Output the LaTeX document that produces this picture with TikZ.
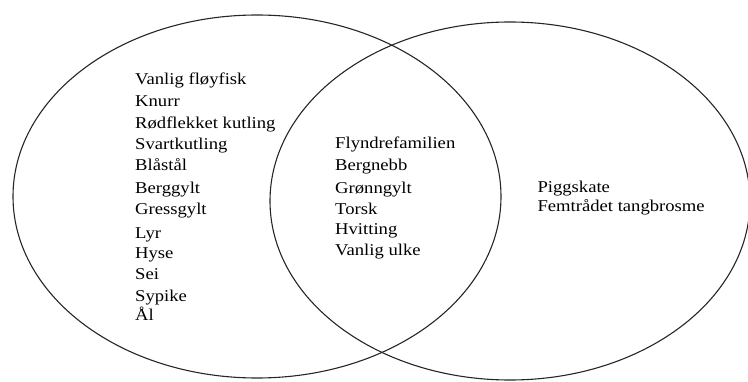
\documentclass[tikz,border=0pt]{standalone}
\usepackage{fontspec}
\setmainfont[FakeStretch=1.13]{Liberation Serif}
\begin{document}
\begin{tikzpicture}[x=1pt,y=1pt,
  set/.style={draw=black!85, line width=1.1pt},
  lbl/.style={anchor=base west, inner sep=0pt, font=\fontsize{16.5}{20}\selectfont}]
\useasboundingbox (0,0) rectangle (748,381);
\clip (0,0) rectangle (748,381);
\draw[set] (257,184.5) ellipse [x radius=244, y radius=181.5];
\draw[set] (510,180) ellipse [x radius=240, y radius=179];
% left set
\node[lbl] (l1) at (135,381-85) {Vanlig fløyfisk};
\node[lbl] (l2) at (135,381-106.7) {Knurr};
\node[lbl] (l3) at (135,381-128.3) {Rødflekket kutling};
\node[lbl] (l4) at (135,381-149.3) {Svartkutling};
\node[lbl] (l5) at (135,381-171) {Blåstål};
\node[lbl] (l6) at (135,381-193.3) {Berggylt};
\node[lbl] (l7) at (135,381-214) {Gressgylt};
\node[lbl] (l8) at (135,381-238.3) {Lyr};
\node[lbl] (l9) at (135,381-258.3) {Hyse};
\node[lbl] (l10) at (135,381-279) {Sei};
\node[lbl] (l11) at (135,381-301.7) {Sypike};
\node[lbl] (l12) at (135,381-320) {Ål};
% intersection
\node[lbl] (m1) at (335,381-149) {Flyndrefamilien};
\node[lbl] (m2) at (335,381-170) {Bergnebb};
\node[lbl] (m3) at (335,381-193.3) {Grønngylt};
\node[lbl] (m4) at (335,381-214.3) {Torsk};
\node[lbl] (m5) at (335,381-234.3) {Hvitting};
\node[lbl] (m6) at (335,381-255) {Vanlig ulke};
% right set
\node[lbl] (r1) at (537.3,381-192.7) {Piggskate};
\node[lbl] (r2) at (537.3,381-211) {Femtrådet tangbrosme};
\end{tikzpicture}
\end{document}
